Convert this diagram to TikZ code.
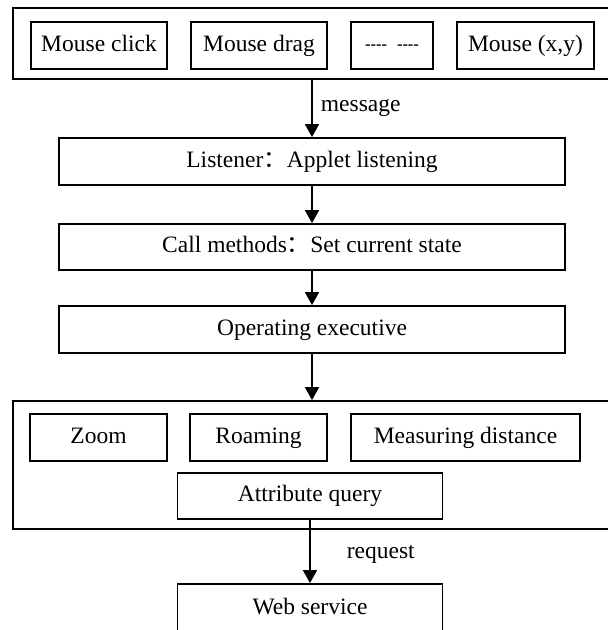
\documentclass[tikz,border=0pt]{standalone}
\usepackage{fontspec}
\setmainfont{Liberation Serif}
\newfontfamily\cjk{Noto Sans CJK SC}
\usetikzlibrary{arrows.meta}
\begin{document}
\begin{tikzpicture}[x=0.5pt,y=-0.5pt,line width=0.9pt,>={Triangle[width=7pt,length=6.5pt]},
		font=\fontsize{11.75}{14}\selectfont,
		box/.style={draw,inner sep=0pt,minimum height=23.5pt,text height=8.2pt,text depth=2.6pt},
		frame/.style={draw,inner sep=0pt,minimum width=301pt}]
				\useasboundingbox (0,0) rectangle (608,630);
				\clip (0,0) rectangle (608,630);
				\node[frame,minimum height=35.5pt] (events) at (314,43.5) {};
				\node[box,minimum width=68pt] (click) at (99,45.5) {Mouse click};
				\node[box,minimum width=68pt] (drag) at (259,45.5) {Mouse drag};
				\node[box,minimum width=41pt,text height=4pt,text depth=0pt,font=\bfseries\fontsize{8.25}{9}\selectfont] (dots) at (392,45.5) {{-}{-}{-}{-}\hspace{5pt}{-}{-}{-}{-}};
				\node[box,minimum width=68.5pt] (pos) at (525.5,45.5) {Mouse (x,y)};
				\node[box,minimum width=253pt] (listener) at (312,161.5) {Listener{\cjk ：}Applet listening};
				\node[box,minimum width=253pt,minimum height=23pt] (callm) at (312,247) {Call methods{\cjk ：}Set current state};
				\node[box,minimum width=253pt] (operate) at (312,329.5) {Operating executive};
				\node[frame,minimum height=64pt] (tools) at (314,465) {};
				\node[box,minimum width=68.5pt] (zoom) at (98.5,437.5) {Zoom};
				\node[box,minimum width=68.5pt] (roam) at (258.5,437.5) {Roaming};
				\node[box,minimum width=114.5pt] (measure) at (465.5,437.5) {Measuring distance};
				\node[box,minimum width=132.5pt,minimum height=23pt] (attr) at (310,496) {Attribute query};
				\node[box,minimum width=132.5pt,minimum height=25pt] (web) at (310,609) {Web service};
				\draw[->] (listener.north |- events.south) -- (listener.north) node[midway,right,inner sep=0pt,xshift=4pt] {message};
				\draw[->] (listener) -- (callm);
				\draw[->] (callm) -- (operate);
				\draw[->] (operate.south) -- (operate.south |- tools.north);
				\draw[->] (attr) -- (web) node[pos=0.55,right,inner sep=0pt,xshift=18pt] {request};
			\end{tikzpicture}
\end{document}
